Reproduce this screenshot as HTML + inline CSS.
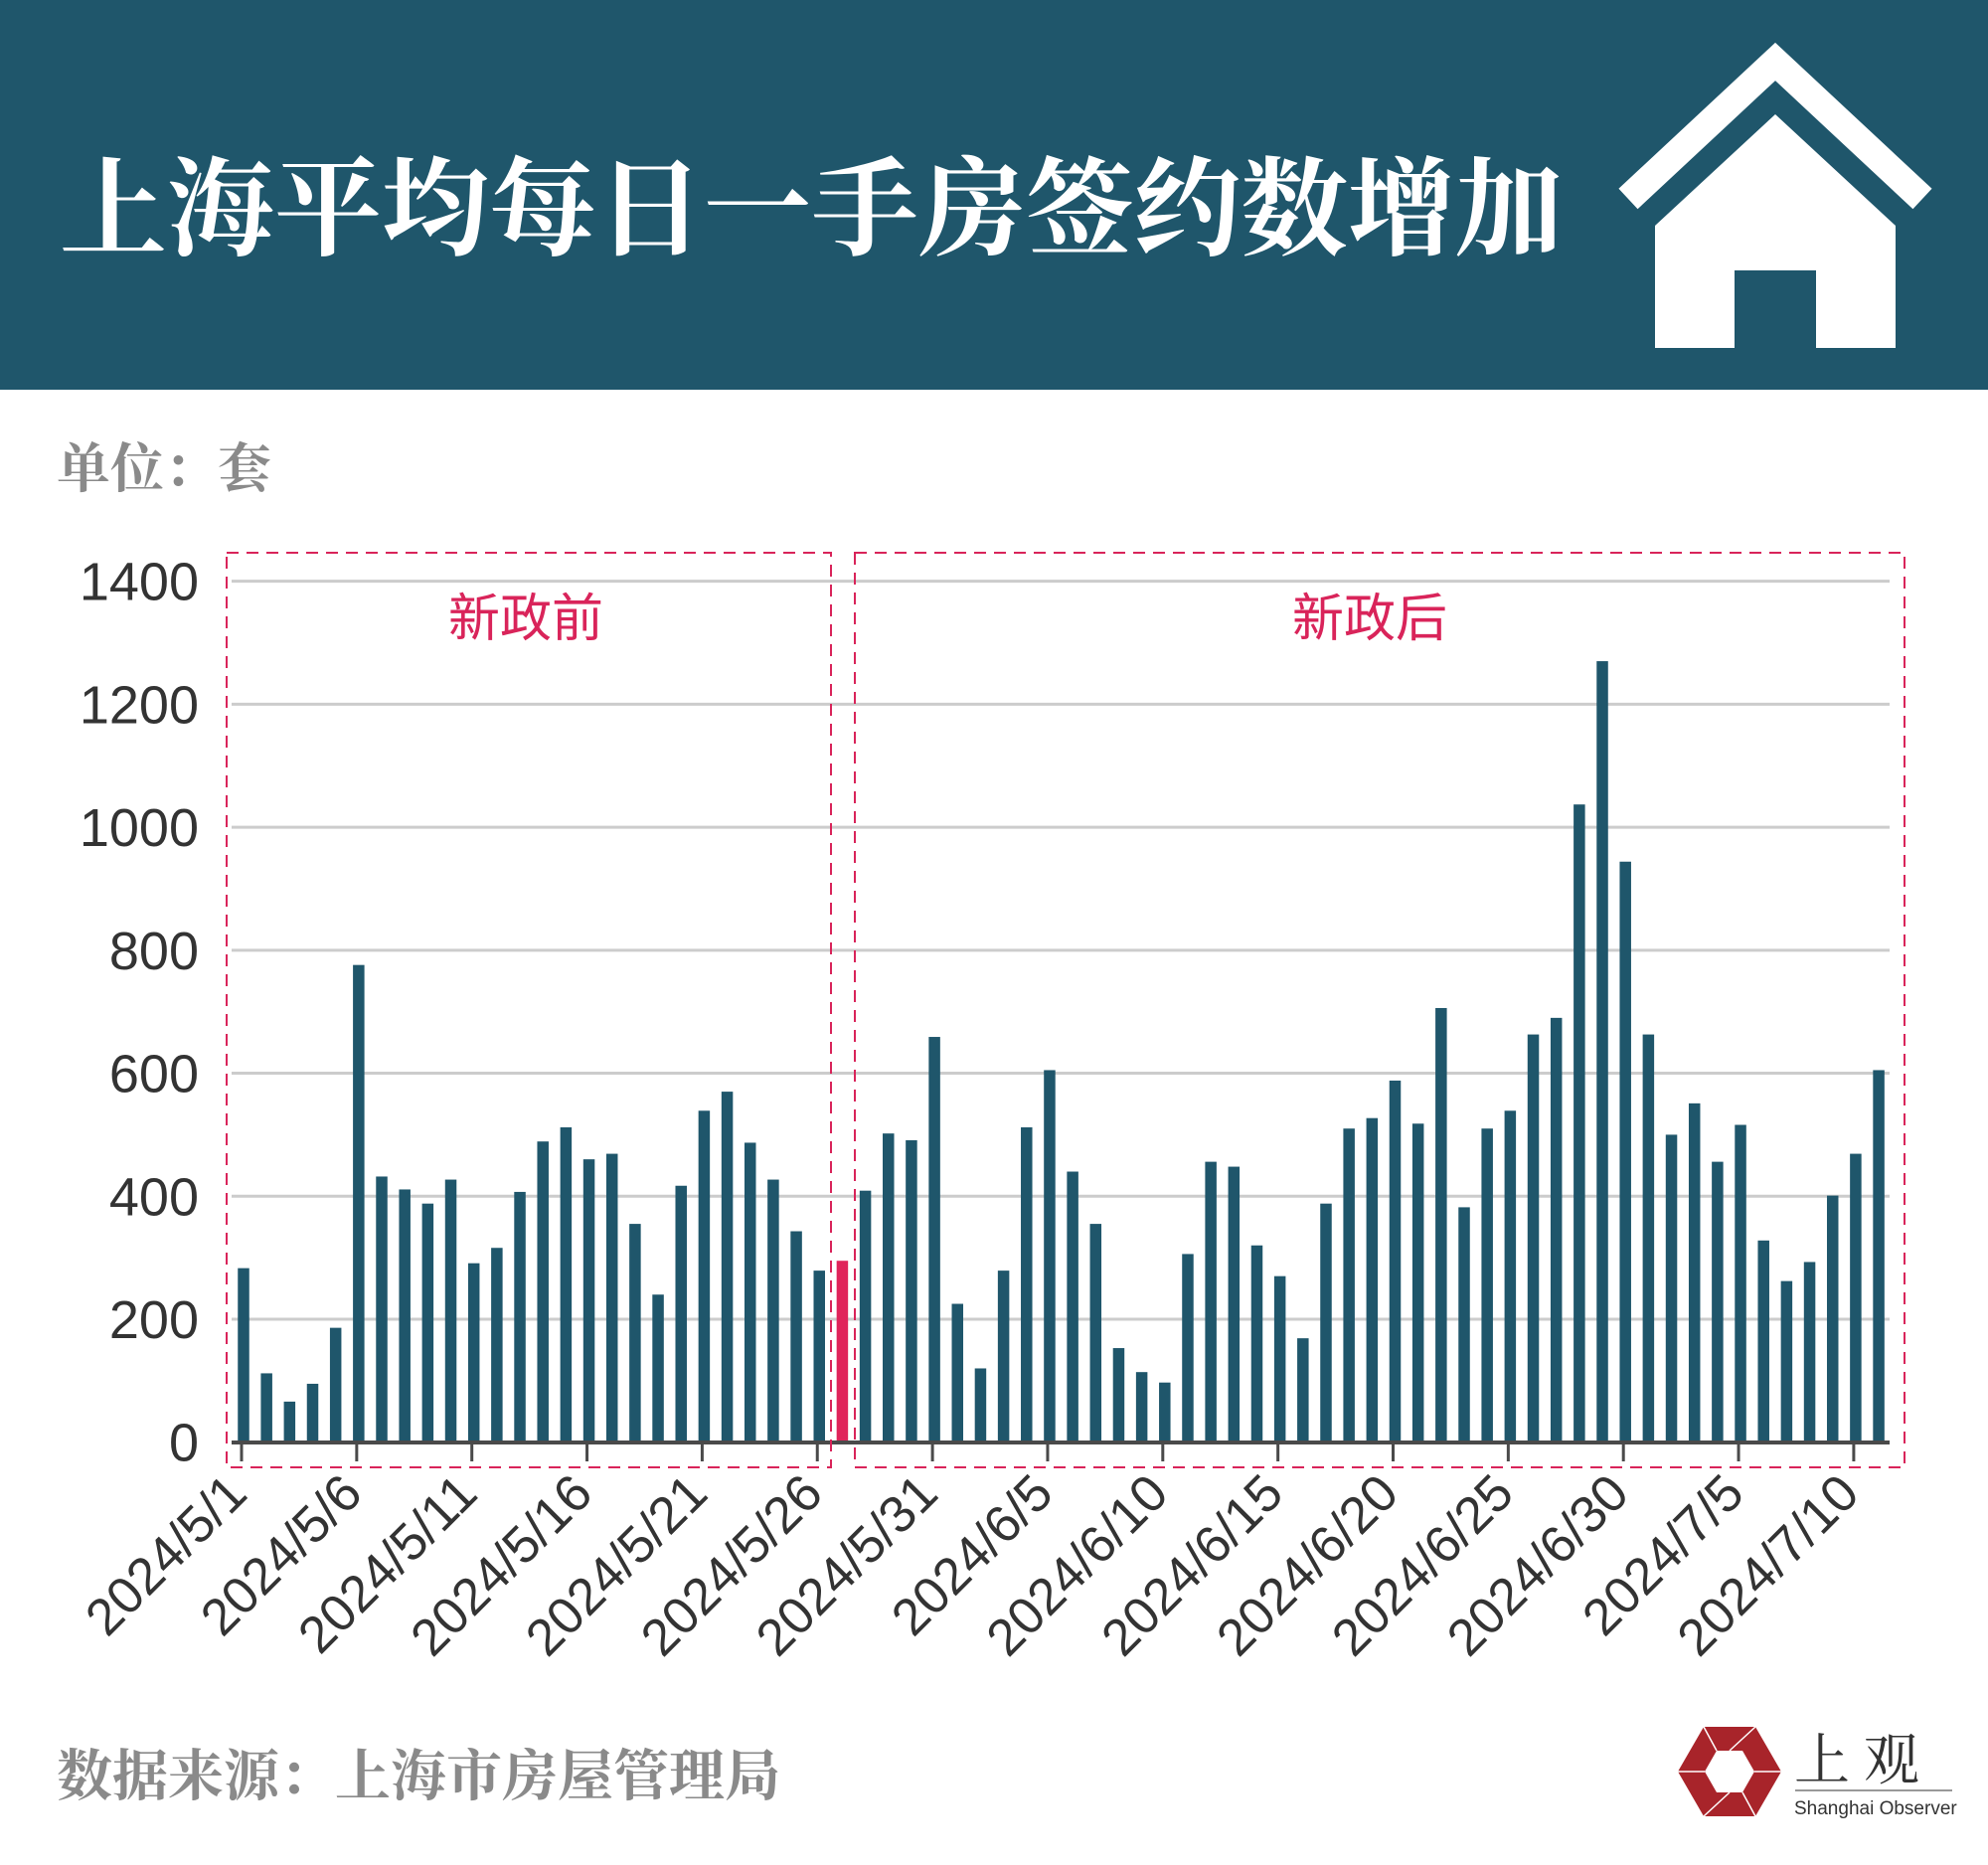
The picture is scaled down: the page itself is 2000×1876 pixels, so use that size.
<!DOCTYPE html>
<html><head><meta charset="utf-8"><style>
html,body{margin:0;padding:0;background:#fff}
svg{display:block}
</style></head><body>
<svg id="s" width="2000" height="1876" viewBox="0 0 2000 1876" xmlns="http://www.w3.org/2000/svg">
<rect x="0" y="0" width="2000" height="392" fill="#1f566b"/>
<text x="60" y="248" font-family="'Liberation Serif','Noto Serif CJK SC',serif" font-weight="bold" font-size="108" fill="#fff">上海平均每日一手房签约数增加</text>
<polyline points="1638,200 1786,62 1934,200" fill="none" stroke="#fff" stroke-width="28" stroke-linejoin="miter" stroke-miterlimit="10"/>
<path d="M1665,350 L1665,227 L1786,115 L1907,227 L1907,350 L1827,350 L1827,272 L1745,272 L1745,350 Z" fill="#fff"/>
<text x="57" y="490" font-family="'Liberation Serif','Noto Serif CJK SC',serif" font-weight="bold" font-size="54" fill="#8a8a8a">单位：套</text>
<g id="grid" stroke="#cccccc" stroke-width="3"></g>
<g id="ylab" font-family="'Liberation Sans',sans-serif" font-size="54" fill="#333" text-anchor="end"></g>
<g id="bars"></g>
<line x1="233" y1="1451" x2="1901" y2="1451" stroke="#4a4a4a" stroke-width="4"/>
<g id="ticks" stroke="#4a4a4a" stroke-width="3"></g>
<g id="xlab" font-family="'Liberation Sans',sans-serif" font-size="52" fill="#333" text-anchor="end"></g>
<rect x="228" y="556" width="608" height="920" fill="none" stroke="#d9245a" stroke-width="2" stroke-dasharray="12,8"/>
<rect x="860" y="556" width="1056" height="920" fill="none" stroke="#d9245a" stroke-width="2" stroke-dasharray="12,8"/>
<text x="529" y="640" text-anchor="middle" font-family="'Liberation Sans','Noto Sans CJK SC',sans-serif" font-size="52" fill="#d9245a">新政前</text>
<text x="1378" y="640" text-anchor="middle" font-family="'Liberation Sans','Noto Sans CJK SC',sans-serif" font-size="52" fill="#d9245a">新政后</text>
<text x="57" y="1806" font-family="'Liberation Serif','Noto Serif CJK SC',serif" font-weight="bold" font-size="56" fill="#8a8a8a">数据来源：上海市房屋管理局</text>
<polygon points="1688,1782 1714,1737 1766,1737 1792,1782 1766,1827 1714,1827" fill="#a8242a"/>
<polygon points="1715,1782 1727,1761 1753,1761 1765,1782 1753,1803 1727,1803" fill="#fff"/>
<g stroke="#fff" stroke-width="1.5"><line x1="1714" y1="1737" x2="1727" y2="1761"/><line x1="1766" y1="1737" x2="1740" y2="1761"/><line x1="1792" y1="1782" x2="1765" y2="1782"/><line x1="1766" y1="1827" x2="1753" y2="1803"/><line x1="1714" y1="1827" x2="1740" y2="1803"/><line x1="1688" y1="1782" x2="1715" y2="1782"/></g>
<text x="1805" y="1790" font-family="'Liberation Serif','Noto Serif CJK SC',serif" font-size="56" fill="#333" letter-spacing="14">上观</text>
<line x1="1806" y1="1801" x2="1964" y2="1801" stroke="#999" stroke-width="2"/>
<text x="1805" y="1825" font-family="'Liberation Sans',sans-serif" font-size="19" fill="#333">Shanghai Observer</text>
</svg>
<script>
var NS="http://www.w3.org/2000/svg";
function el(p,t,a,txt){var e=document.createElementNS(NS,t);for(var k in a)e.setAttribute(k,a[k]);if(txt!==undefined)e.textContent=txt;document.getElementById(p).appendChild(e);}
var y0=1450.7,sc=0.6186;
for(var v=0;v<=1400;v+=200){var y=y0-v*sc;if(v>0)el("grid","line",{x1:233,y1:y,x2:1901,y2:y});el("ylab","text",{x:200,y:y+19},String(v));}
var d=[283,112,66,95,186,776,432,411,388,427,291,316,407,489,512,460,469,355,240,417,539,570,487,427,343,279,295,409,502,491,659,225,120,279,512,605,440,355,153,114,97,306,456,448,320,270,169,388,510,527,588,518,706,382,510,539,663,690,1037,1270,944,663,500,551,456,516,328,262,293,401,469,605];
var labs=["2024/5/1","2024/5/6","2024/5/11","2024/5/16","2024/5/21","2024/5/26","2024/5/31","2024/6/5","2024/6/10","2024/6/15","2024/6/20","2024/6/25","2024/6/30","2024/7/5","2024/7/10"];
for(var i=0;i<d.length;i++){var c=245+i*23.17,h=d[i]*sc;el("bars","rect",{x:c-5.75,y:y0-h,width:11.5,height:h,fill:i==26?"#e0245a":"#1f566b"});}
for(var j=0;j<labs.length;j++){var c=245+j*5*23.17-2;el("ticks","line",{x1:c,y1:1451,x2:c,y2:1470});el("xlab","text",{x:c+8,y:1505,transform:"rotate(-45 "+(c+8)+" 1505)"},labs[j]);}
</script>
</body></html>
